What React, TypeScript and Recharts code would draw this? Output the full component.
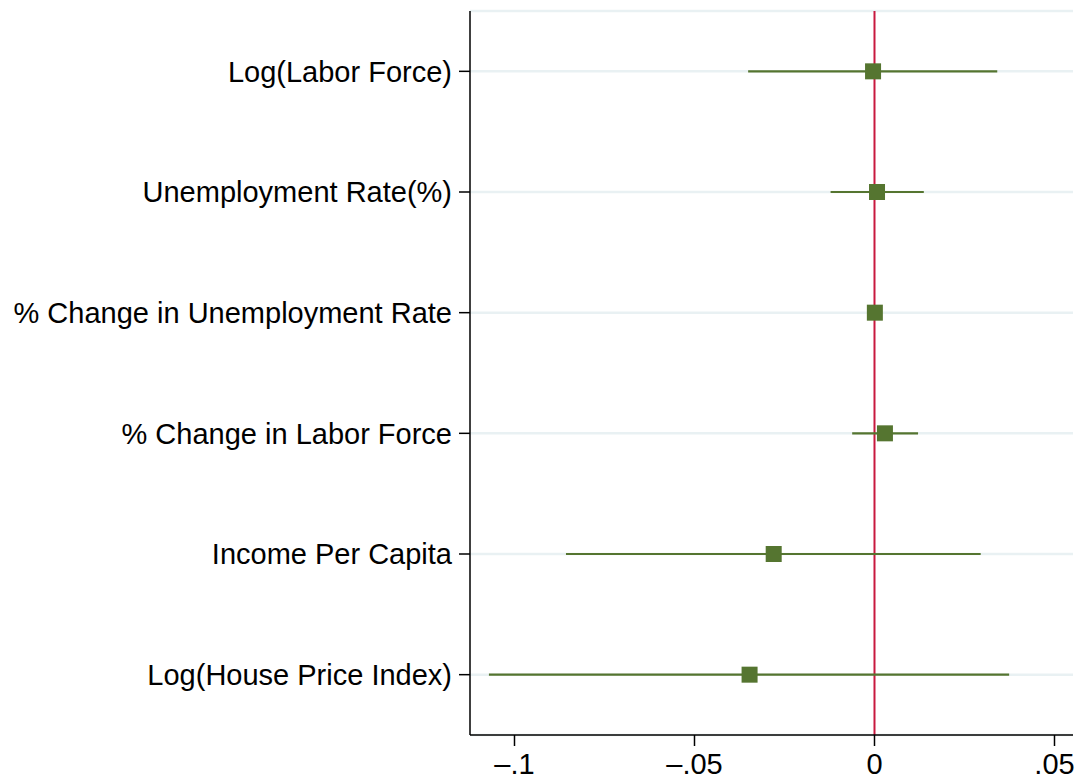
import React from "react";
import {
  ScatterChart,
  Scatter,
  XAxis,
  YAxis,
  CartesianGrid,
  ReferenceLine,
  ErrorBar,
} from "recharts";

const categories = [
  "Log(Labor Force)",
  "Unemployment Rate(%)",
  "% Change in Unemployment Rate",
  "% Change in Labor Force",
  "Income Per Capita",
  "Log(House Price Index)",
];
const coefs = [-0.0004, 0.0007, 0.0001, 0.0029, -0.028, -0.0347];
const lowerCI = [-0.0351, -0.0122, -0.0008, -0.0062, -0.0857, -0.1071];
const upperCI = [0.0341, 0.0137, 0.001, 0.0121, 0.0295, 0.0374];
const xTicks = [-0.1, -0.05, 0, 0.05];
const yTicks = [1, 2, 3, 4, 5, 6];

const data = categories.map((name, i) => ({
  name,
  y: i + 1,
  x: coefs[i],
  err: [coefs[i] - lowerCI[i], upperCI[i] - coefs[i]],
}));

const FONT = "'Liberation Sans', Arial, Helvetica, sans-serif";
const GREEN = "#557530";
const RED = "#C8193F";
const MARKER = 16;

const fmtX = (v: number) => {
  if (v === 0) return "0";
  const s = Math.abs(v).toString().replace(/^0/, "");
  return (v < 0 ? "\u2013" : "") + s;
};

const SquareMarker = (props: any) => {
  const { cx, cy } = props;
  if (cx == null || cy == null) return null;
  return (
    <rect
      x={cx - MARKER / 2}
      y={cy - MARKER / 2}
      width={MARKER}
      height={MARKER}
      fill={GREEN}
    />
  );
};

export default function App() {
  return (
    <div style={{ position: "absolute", left: 0, top: 0, width: 1083, height: 780, background: "#fff" }}>
      <ScatterChart
        width={1083}
        height={780}
        margin={{ top: 11, right: 10, bottom: 0, left: 0 }}
        style={{ fontFamily: FONT }}
      >
        <CartesianGrid vertical={false} stroke="#E9F1F3" strokeWidth={2.5} />
        <XAxis
          type="number"
          dataKey="x"
          domain={[-0.11236, 0.05514]}
          allowDataOverflow
          ticks={xTicks}
          tickFormatter={fmtX}
          height={45}
          axisLine={{ stroke: "#000", strokeWidth: 1.5 }}
          tickLine={{ stroke: "#000", strokeWidth: 1.5 }}
          tickSize={11}
          tickMargin={7}
          tick={{ fill: "#000", fontSize: 29, fontFamily: FONT }}
        />
        <YAxis
          type="number"
          dataKey="y"
          domain={[0.5, 6.5]}
          reversed
          ticks={yTicks}
          interval={0}
          tickFormatter={(v: number) => categories[v - 1]}
          width={470}
          axisLine={{ stroke: "#000", strokeWidth: 1.5 }}
          tickLine={{ stroke: "#000", strokeWidth: 1.5 }}
          tickSize={11}
          tickMargin={7}
          tick={{ fill: "#000", fontSize: 29, fontFamily: FONT }}
        />
        <ReferenceLine x={0} stroke={RED} strokeWidth={2} />
        <Scatter
          data={data}
          fill={GREEN}
          shape={SquareMarker}
          isAnimationActive={false}
        >
          <ErrorBar
            dataKey="err"
            direction="x"
            width={0}
            stroke={GREEN}
            strokeWidth={2.2}
            isAnimationActive={false}
          />
        </Scatter>
      </ScatterChart>
    </div>
  );
}
